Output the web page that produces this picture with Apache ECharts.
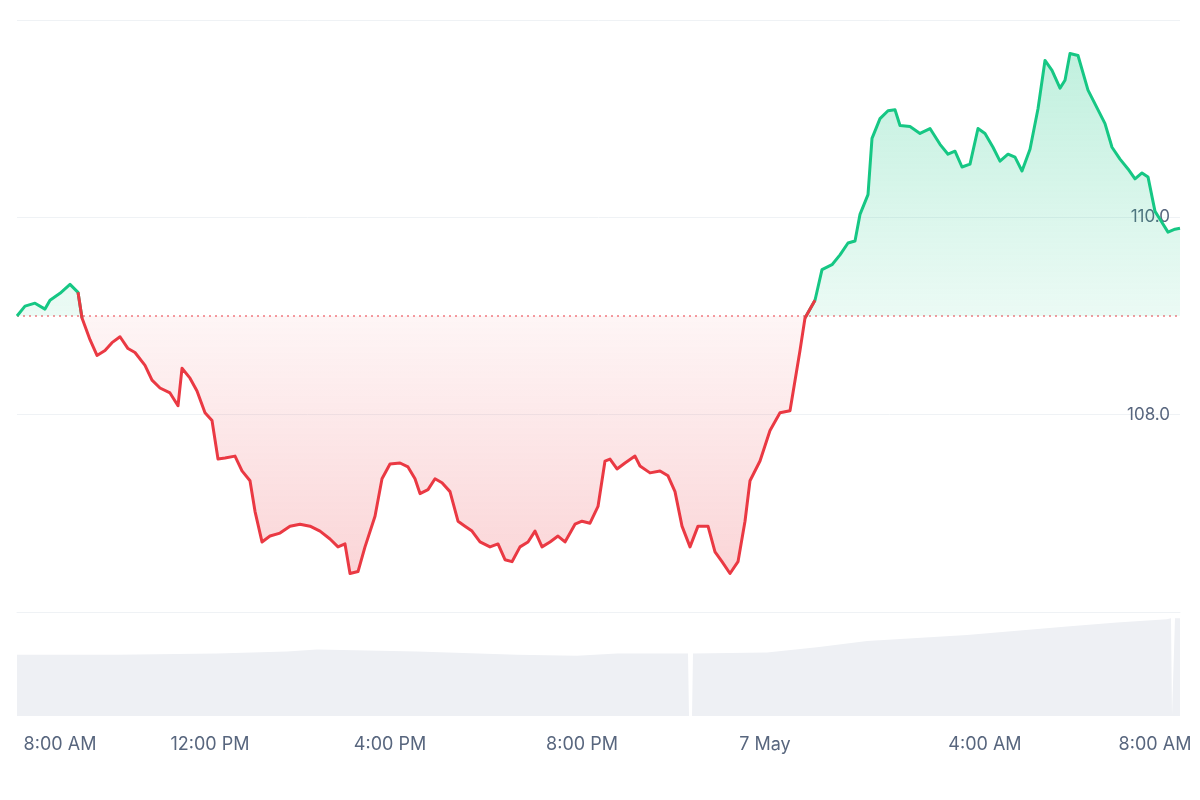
<!DOCTYPE html><html><head><meta charset="utf-8">
<script src="https://cdn.jsdelivr.net/npm/echarts@6/dist/echarts.min.js"></script>
<style>html,body{margin:0;background:#fff}#c{width:1200px;height:800px}</style></head><body><div id="c"></div>
<script>
// time in chart units (≈1.24 min each) since start
const times=[0,8,18,28,33,43,53,61,65,73,80,88,95,103,111,118,128,135,143,153,161,165,173,180,188,195,201,208,218,225,233,238,245,253,263,273,283,293,303,313,321,328,333,341,348,358,365,373,383,391,398,403,411,418,425,433,441,448,455,463,473,481,488,495,503,511,518,525,533,541,548,558,565,573,581,588,593,600,608,618,623,633,643,651,658,665,673,681,691,698,705,713,721,728,733,743,753,763,773,783,788,798,805,815,823,831,838,843,851,855,863,871,878,883,893,903,913,923,931,938,945,953,961,968,976,983,991,998,1005,1013,1021,1028,1035,1043,1048,1053,1061,1071,1078,1088,1095,1103,1111,1118,1125,1131,1138,1143,1151,1158,1163];
const prices=[109.00,109.10,109.13,109.07,109.16,109.23,109.32,109.24,108.98,108.76,108.60,108.65,108.73,108.79,108.67,108.63,108.50,108.35,108.27,108.22,108.09,108.47,108.37,108.24,108.02,107.94,107.55,107.56,107.58,107.43,107.33,107.02,106.71,106.77,106.80,106.87,106.89,106.87,106.82,106.74,106.66,106.69,106.39,106.41,106.66,106.97,107.35,107.50,107.51,107.47,107.35,107.20,107.24,107.35,107.31,107.22,106.92,106.87,106.82,106.71,106.66,106.69,106.53,106.51,106.66,106.71,106.82,106.66,106.71,106.77,106.71,106.89,106.92,106.90,107.07,107.53,107.55,107.45,107.51,107.58,107.48,107.41,107.43,107.38,107.22,106.87,106.66,106.87,106.87,106.61,106.51,106.39,106.51,106.92,107.33,107.53,107.84,108.02,108.04,108.65,108.98,109.16,109.47,109.52,109.62,109.74,109.76,110.03,110.23,110.80,111.00,111.08,111.09,110.93,110.92,110.85,110.90,110.74,110.64,110.67,110.51,110.54,110.90,110.85,110.71,110.57,110.64,110.61,110.47,110.69,111.10,111.59,111.49,111.31,111.39,111.66,111.64,111.29,111.15,110.95,110.71,110.59,110.49,110.39,110.45,110.41,110.06,109.98,109.85,109.88,109.89];
const volTimes=[0,100,200,270,300,400,500,560,600,660,671,672,675,676,750,800,850,900,950,1000,1050,1100,1150,1154,1155,1157,1158,1163];
const volumes=[59,59,60,62,64,62,59,58,60,60,60,0,0,60,61,66,72,75,78,82,86,90,93,94,0,0,94,94];
const baseline=109.0;
const tickTimes=[43,193,373,565,748,968,1138];
const tickLabels=['8:00 AM','12:00 PM','4:00 PM','8:00 PM','7 May','4:00 AM','8:00 AM'];

const isUp=i=>prices[i]>=baseline;
const upLine=times.map((t,i)=>[t,(isUp(i)||(i>0&&isUp(i-1))||(i<prices.length-1&&isUp(i+1)))?prices[i]:null]);
const dnLine=times.map((t,i)=>[t,(!isUp(i)||(i>0&&!isUp(i-1))||(i<prices.length-1&&!isUp(i+1)))?prices[i]:null]);
const base=times.map(t=>[t,baseline]);
const upA=times.map((t,i)=>[t,Math.max(prices[i],baseline)]);
const dnA=times.map((t,i)=>[t,Math.min(prices[i],baseline)]);
const vol=volTimes.map((t,i)=>[t,volumes[i]]);
const font='Inter, "Noto Sans", sans-serif';
const c=echarts.init(document.getElementById('c'));
const xBase={type:'value',min:0,max:1163,splitLine:{show:false},axisTick:{show:false}};
const hid={show:false};
c.setOption({animation:false,
grid:[{left:17,right:20,top:20,bottom:188},{left:17,right:20,top:612,bottom:84},
{left:17,right:20,top:20,bottom:484},{left:17,right:20,top:316,bottom:188}],
xAxis:[Object.assign({gridIndex:0,axisLine:{show:true,lineStyle:{color:'#eff2f5'}},axisLabel:{show:false}},xBase),
Object.assign({gridIndex:1,axisLine:{show:false},axisLabel:{customValues:tickTimes,color:'#58667e',fontSize:18,fontFamily:font,margin:20,formatter:v=>tickLabels[tickTimes.indexOf(v)]}},xBase),
Object.assign({gridIndex:2,show:false},xBase),Object.assign({gridIndex:3,show:false},xBase)],
yAxis:[{gridIndex:0,position:'right',min:106,max:112,interval:2,axisLine:{show:false},axisTick:{show:false},
splitLine:{lineStyle:{color:'#eff2f5'}},axisLabel:{inside:true,margin:10,color:'#58667e',fontSize:17,fontFamily:font,verticalAlign:'middle',formatter:v=>(v===108||v===110)?v.toFixed(1):''}},
{gridIndex:1,min:0,max:100,show:false},
{gridIndex:2,min:109,max:112,show:false},{gridIndex:3,min:106,max:109,show:false}],
series:[
{type:'line',xAxisIndex:2,yAxisIndex:2,data:upA,symbol:'none',lineStyle:{width:0},areaStyle:{origin:'start',color:{type:'linear',x:0,y:0,x2:0,y2:1,colorStops:[{offset:0,color:'rgba(22,199,132,0.38)'},{offset:1,color:'rgba(22,199,132,0.12)'}]}}},
{type:'line',xAxisIndex:3,yAxisIndex:3,data:dnA,symbol:'none',lineStyle:{width:0},areaStyle:{origin:'end',color:{type:'linear',x:0,y:0,x2:0,y2:1,colorStops:[{offset:0,color:'rgba(234,57,67,0.07)'},{offset:1,color:'rgba(234,57,67,0.3)'}]}}},
{type:'line',data:base,symbol:'none',z:2,lineStyle:{type:[2,4],color:'#ea3943',width:1.2}},
{type:'line',data:upLine,symbol:'none',z:3,color:'#16c784',lineStyle:{width:3,join:'round'}},
{type:'line',data:dnLine,symbol:'none',z:4,color:'#ea3943',lineStyle:{width:3,join:'round'}},
{type:'line',xAxisIndex:1,yAxisIndex:1,data:vol,symbol:'none',lineStyle:{width:0},areaStyle:{color:'#eef0f4',opacity:1}}
]
});
</script></body></html>
